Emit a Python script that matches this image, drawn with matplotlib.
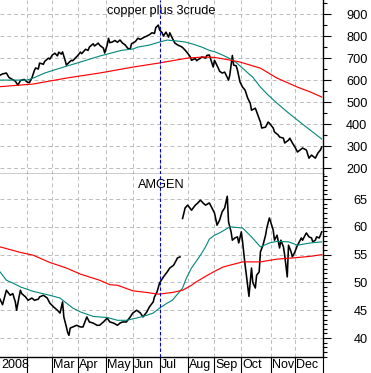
import numpy as np
import matplotlib
matplotlib.use('Agg')
import matplotlib.pyplot as plt
from matplotlib.ticker import MultipleLocator, AutoMinorLocator

plt.rcParams['font.family'] = ['Liberation Sans', 'DejaVu Sans']

# trading day index (2008) where each month starts
monthStart = [0, 21, 41, 61, 83, 104, 125, 147, 168, 189, 212, 231]
monthLabel = ['2008', '', 'Mar', 'Apr', 'May', 'Jun', 'Jul', 'Aug', 'Sep', 'Oct', 'Nov', 'Dec']
lastDay = 253
markDay = 125

# copper plus 3crude
cuDay = [0, 2, 5, 7, 9, 12, 14, 16, 19, 21, 23, 25, 27, 28, 30, 31, 34, 35, 38, 39,
         41, 43, 45, 46, 48, 49, 51, 52, 54, 56, 57, 59, 61, 63, 64, 67, 69, 70, 73, 74,
         77, 78, 81, 82, 84, 85, 86, 88, 90, 92, 94, 96, 98, 100, 102, 103, 106, 108, 110, 113,
         115, 117, 119, 121, 122, 124, 125, 127, 128, 130, 132, 133, 135, 137, 139, 142, 143, 145, 147, 149,
         150, 153, 154, 157, 158, 161, 162, 164, 167, 168, 171, 172, 174, 176, 179, 180, 182, 183, 185, 186,
         188, 190, 192, 194, 196, 197, 200, 202, 204, 205, 208, 210, 211, 214, 215, 218, 219, 222, 223, 226,
         227, 229, 231, 233, 235, 237, 240, 242, 244, 247, 249, 251, 252]
cuVal = [622, 628, 632, 612, 605, 595, 577, 598, 603, 592, 588, 610, 645, 655, 650, 677, 672, 685, 700, 695,
         714, 722, 710, 727, 718, 728, 690, 668, 680, 690, 688, 700, 712, 727, 720, 740, 735, 750, 765, 755,
         768, 759, 745, 723, 760, 790, 770, 773, 780, 772, 782, 768, 760, 745, 740, 765, 775, 790, 785, 795,
         800, 806, 815, 812, 838, 850, 828, 815, 800, 818, 795, 815, 790, 768, 760, 752, 748, 736, 722, 706,
         690, 698, 688, 700, 705, 700, 712, 714, 659, 690, 654, 640, 632, 636, 600, 623, 712, 668, 665, 645,
         591, 568, 554, 518, 495, 463, 472, 441, 409, 382, 386, 409, 404, 382, 364, 350, 341, 336, 314, 327,
         336, 314, 296, 273, 282, 291, 282, 245, 259, 245, 268, 282, 296]
cuFastDay = [0, 21, 26, 35, 47, 52, 63, 78, 84, 95, 104, 108, 117, 125, 131, 138, 145, 152, 158, 164,
             169, 175, 180, 185, 190, 195, 198, 204, 210, 217, 225, 233, 240, 248, 252]
cuFastVal = [600, 600, 609, 632, 654, 663, 682, 709, 718, 735, 741, 750, 759, 773, 782, 778, 773, 762, 750, 735,
             727, 712, 698, 680, 654, 628, 613, 568, 532, 495, 455, 418, 386, 350, 332]
cuSlowDay = [0, 26, 52, 78, 104, 124, 147, 160, 168, 180, 188, 204, 217, 233, 243, 252]
cuSlowVal = [570, 582, 609, 632, 659, 677, 700, 705, 703, 691, 682, 654, 609, 568, 546, 523]

# AMGEN (nan = opening gap in July)
amDay = [0, 2, 4, 5, 8, 10, 12, 13, 15, 16, 17, 20, 22, 25, 27, 30, 31, 34, 37, 39,
         42, 45, 47, 49, 50, 52, 53, 54, 55, 57, 60, 63, 65, 68, 70, 73, 76, 78, 81, 84,
         86, 89, 92, 94, 96, 99, 102, 104, 107, 110, 112, 115, 117, 120, 121, 123, 125, 128, 131, 133,
         136, 139, 141, 142, 143, 145, 147, 150, 153, 155, 157, 159, 161, 164, 166, 168, 170, 172, 174, 176,
         178, 179, 181, 182, 184, 186, 187, 189, 190, 192, 193, 195, 197, 198, 200, 201, 203, 204, 206, 208,
         209, 211, 212, 214, 215, 217, 219, 220, 222, 223, 225, 226, 228, 229, 231, 233, 234, 236, 237, 239,
         240, 242, 244, 245, 247, 248, 250, 251, 252]
amVal = [47.0, 46.0, 47.7, 48.6, 47.7, 48.0, 46.5, 45.0, 47.5, 48.6, 48.0, 47.4, 46.8, 47.2, 46.8, 47.0, 47.4, 47.7, 47.2, 46.3,
         45.6, 45.0, 44.5, 46.5, 43.8, 42.0, 41.0, 40.5, 41.8, 42.0, 42.3, 42.0, 42.0, 43.8, 42.9, 42.7, 42.3, 42.3, 42.9, 43.6,
         42.9, 42.7, 42.3, 42.7, 42.9, 42.9, 43.8, 44.5, 45.0, 44.5, 43.8, 44.7, 45.6, 46.5, 47.4, 48.3, 49.9, 51.0, 51.9, 52.6,
         53.1, 54.4, 54.6, np.nan, 61.5, 63.4, 63.9, 63.0, 63.9, 64.3, 64.8, 64.3, 63.9, 64.3, 63.4, 62.5, 60.3, 61.2, 62.7, 63.4,
         65.5, 60.9, 59.1, 57.6, 58.0, 58.2, 57.1, 59.1, 57.3, 53.1, 51.3, 47.5, 52.6, 50.0, 49.0, 51.3, 51.9, 55.5, 56.7, 58.5,
         59.8, 61.6, 60.9, 59.4, 57.6, 58.5, 56.2, 57.6, 56.4, 54.9, 51.0, 56.7, 55.5, 54.6, 55.5, 56.7, 57.1, 58.0, 57.6, 58.5,
         58.9, 58.2, 58.0, 57.3, 57.6, 58.2, 58.0, 58.5, 59.1]
amFastDay = [0, 5, 10, 16, 26, 39, 47, 52, 57, 63, 68, 73, 78, 84, 92, 99, 107, 115, 120, 125,
             131, 135, 139, 143, 146, 150, 157, 161, 164, 168, 172, 180, 190, 197, 204, 211, 217, 226, 233, 243, 252]
amFastVal = [51.9, 50.4, 49.9, 49.2, 48.4, 47.7, 47.2, 46.3, 45.4, 44.7, 44.3, 43.9, 43.8, 43.7, 43.2, 43.2, 43.6, 44.1, 44.5, 45.4,
             46.3, 46.8, 47.9, 49.0, 50.8, 52.6, 54.9, 56.4, 57.8, 58.5, 58.9, 60.0, 59.8, 58.2, 56.4, 57.1, 57.4, 57.3, 56.7, 57.1, 57.3]
amSlowDay = [0, 16, 26, 39, 52, 63, 78, 86, 92, 104, 115, 124, 135, 143, 150, 153, 161, 168, 175, 190, 204, 217, 229, 243, 252]
amSlowVal = [56.4, 55.4, 54.9, 53.6, 52.6, 51.5, 50.4, 49.6, 49.5, 48.5, 48.2, 47.9, 48.2, 48.6, 49.5, 50.0, 51.1, 52.0, 52.8, 53.7,
             53.7, 54.2, 54.4, 54.7, 55.0]

tealColor = '#00877a'
gridColor = '#bcbcbc'


def drawPanel(ax, day, val, fastDay, fastVal, slowDay, slowVal, title, ylim, yticks, minorLoc):
    ax.plot(day, val, color='black', lw=1.15, zorder=3)
    ax.plot(fastDay, fastVal, color=tealColor, lw=0.8, zorder=4)
    ax.plot(slowDay, slowVal, color='#ff0000', lw=0.85, zorder=4)
    ax.axvline(markDay, color='#0000cc', ls=(0, (3, 2)), lw=0.8, zorder=5)
    ax.set_xlim(0, lastDay)
    ax.set_ylim(*ylim)
    ax.set_axisbelow(True)

    ax.set_yticks(yticks)
    ax.set_yticklabels([str(t) for t in yticks])
    ax.yaxis.set_minor_locator(minorLoc)
    ax.yaxis.tick_right()
    ax.tick_params(axis='y', which='major', length=6, width=0.8, direction='out',
                   pad=26, labelsize=9.2, labelcolor='black')
    ax.tick_params(axis='y', which='minor', length=3, width=0.8, direction='out')
    for t in ax.get_yticklabels():
        t.set_horizontalalignment('right')

    ax.grid(True, which='major', color=gridColor, ls=(0, (4, 3)), lw=0.7)
    for s in ['left', 'top']:
        ax.spines[s].set_visible(False)
    for s in ['right', 'bottom']:
        ax.spines[s].set_linewidth(1.0)
    ax.text(0.5, 0.935 if ylim[1] > 100 else 0.94, title, transform=ax.transAxes,
            ha='center', va='center', fontsize=9.2)


fig = plt.figure(figsize=(3.71, 3.73), dpi=100)
axTop = fig.add_axes([0, 1 - 174 / 373, 323 / 371, 174 / 373])
axBot = fig.add_axes([0, 1 - 357 / 373, 323 / 371, 183 / 373])

drawPanel(axTop, cuDay, cuVal, cuFastDay, cuFastVal, cuSlowDay, cuSlowVal,
          'copper plus 3crude', (173, 964), [200, 300, 400, 500, 600, 700, 800, 900], MultipleLocator(50))
drawPanel(axBot, amDay, amVal, amFastDay, amFastVal, amSlowDay, amSlowVal,
          'AMGEN', (36.6, 69.5), [40, 45, 50, 55, 60, 65], AutoMinorLocator(6))

# month grid lines
axTop.set_xticks(monthStart[1:])
axTop.tick_params(axis='x', which='both', length=0, labelbottom=False)

axBot.set_xticks(monthStart[1:] + [lastDay])
axBot.set_xticklabels([])
axBot.set_xticks([d + 0.9 for d in monthStart], minor=True)
axBot.set_xticklabels(monthLabel, minor=True)
axBot.tick_params(axis='x', which='major', length=12, width=0.8, direction='out', color='black')
axBot.tick_params(axis='x', which='minor', length=0, pad=1.2, labelsize=9)
for t in axBot.get_xticklabels(minor=True):
    t.set_horizontalalignment('left')
axBot.spines['top'].set_visible(False)

fig.savefig('out.png', dpi=100)
